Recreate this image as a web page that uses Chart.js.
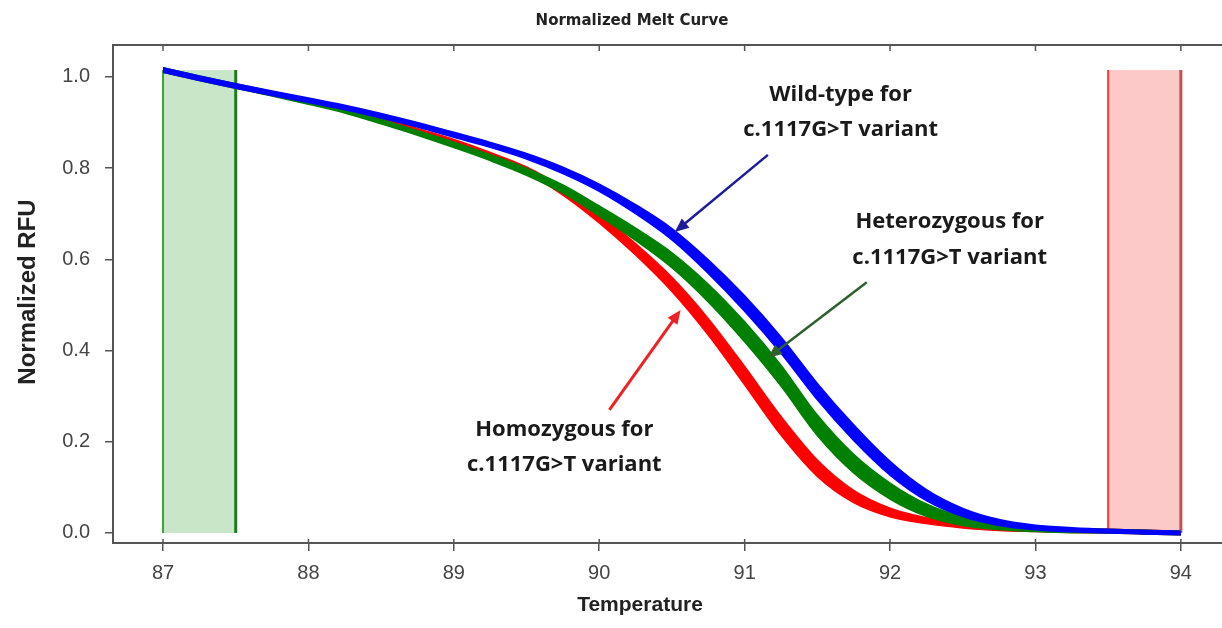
<!DOCTYPE html>
<html>
<head>
<meta charset="utf-8">
<title>Normalized Melt Curve</title>
<script src="https://cdn.jsdelivr.net/npm/chart.js@4.4.1/dist/chart.umd.min.js"></script>
<style>
    html, body { margin: 0; padding: 0; background: #ffffff; }
    #meltChart { display: block; }
</style>
</head>
<body>
<canvas id="meltChart" width="1222" height="628"></canvas>
<script>
// temperature points (deg C)
const temps = [87, 87.25, 87.5, 87.75, 88, 88.25, 88.5, 88.75, 89, 89.25, 89.5, 89.75, 90, 90.25, 90.5,
               90.75, 91, 91.25, 91.5, 91.75, 92, 92.25, 92.5, 92.75, 93, 93.25, 93.5, 93.75, 94];

// middle of each group of curves
const wildType = [1.015, 0.997, 0.980, 0.964, 0.949, 0.933, 0.915, 0.895, 0.873, 0.851, 0.826, 0.795, 0.757, 0.710, 0.655,
                  0.584, 0.503, 0.412, 0.310, 0.220, 0.142, 0.083, 0.045, 0.023, 0.012, 0.007, 0.004, 0.002, 0.000];
const heterozygous = [1.015, 0.997, 0.980, 0.963, 0.945, 0.926, 0.902, 0.877, 0.851, 0.823, 0.792, 0.754, 0.706, 0.655, 0.598,
                      0.526, 0.441, 0.345, 0.236, 0.152, 0.092, 0.050, 0.026, 0.014, 0.008, 0.005, 0.004, 0.002, 0.000];
const homozygous = [1.015, 0.997, 0.980, 0.963, 0.946, 0.929, 0.907, 0.883, 0.858, 0.829, 0.796, 0.749, 0.690, 0.622, 0.545,
                    0.452, 0.345, 0.235, 0.142, 0.080, 0.045, 0.027, 0.016, 0.010, 0.007, 0.005, 0.004, 0.002, 0.000];

// vertical spread of each group (RFU)
const wildTypeSpread = [0.010, 0.010, 0.010, 0.010, 0.010, 0.010, 0.010, 0.010, 0.011, 0.011, 0.012, 0.014, 0.016, 0.020, 0.025,
                        0.030, 0.034, 0.036, 0.036, 0.034, 0.030, 0.024, 0.018, 0.013, 0.010, 0.009, 0.008, 0.008, 0.008];
const heterozygousSpread = [0.010, 0.010, 0.010, 0.010, 0.010, 0.010, 0.010, 0.010, 0.012, 0.013, 0.015, 0.018, 0.022, 0.027, 0.033,
                            0.039, 0.044, 0.046, 0.045, 0.041, 0.035, 0.027, 0.019, 0.013, 0.010, 0.009, 0.008, 0.008, 0.008];
const homozygousSpread = [0.008, 0.008, 0.008, 0.008, 0.008, 0.008, 0.008, 0.008, 0.010, 0.011, 0.013, 0.016, 0.020, 0.025, 0.031,
                          0.036, 0.040, 0.041, 0.036, 0.027, 0.019, 0.013, 0.010, 0.009, 0.008, 0.008, 0.008, 0.008, 0.008];

// begin / end normalization regions
const startRegion = [87, 87.5];
const endRegion = [93.5, 94];
const regionTop = 1.015;

const xTicks = [87, 88, 89, 90, 91, 92, 93, 94];
const yTicks = [0.0, 0.2, 0.4, 0.6, 0.8, 1.0];

const chartTitle = 'Normalized Melt Curve';
const xTitle = 'Temperature';
const yTitle = 'Normalized RFU';

// annotation labels (data units)
const labels = [
    { lines: ['Wild-type for', 'c.1117G>T variant'], x: 91.66, y: [0.960, 0.885] },
    { lines: ['Heterozygous for', 'c.1117G>T variant'], x: 92.41, y: [0.682, 0.603] },
    { lines: ['Homozygous for', 'c.1117G>T variant'], x: 89.76, y: [0.226, 0.150] }
];
// arrows: from -> to (data units)
const arrows = [
    { from: [91.16, 0.829], to: [90.52, 0.660], color: '#1c1c9c', width: 2.5 },
    { from: [91.84, 0.550], to: [91.16, 0.384], color: '#2f5f2f', width: 2.5 },
    { from: [90.07, 0.270], to: [90.56, 0.489], color: '#ee2222', width: 3 }
];

function edge(center, spread, sign) {
    return temps.map(function(t, i) {
        return { x: t, y: center[i] + sign * spread[i] / 2 };
    });
}

function bandDatasets(name, center, spread, color) {
    return [
        {
            label: name + ' upper',
            data: edge(center, spread, 1),
            borderColor: color,
            borderWidth: 1.5,
            pointRadius: 0,
            cubicInterpolationMode: 'monotone',
            fill: false
        },
        {
            label: name + ' lower',
            data: edge(center, spread, -1),
            borderColor: color,
            backgroundColor: color,
            borderWidth: 1.5,
            pointRadius: 0,
            cubicInterpolationMode: 'monotone',
            fill: '-1'
        }
    ];
}

// shaded regions, frame top, titles and annotations
const decorations = {
    id: 'decorations',
    beforeDatasetsDraw(chart) {
        const ctx = chart.ctx;
        const x = chart.scales.x;
        const y = chart.scales.y;
        const yTop = y.getPixelForValue(regionTop);
        const yBot = y.getPixelForValue(0);

        function region(r, fill, leftColor, rightColor) {
            const x0 = x.getPixelForValue(r[0]);
            const x1 = x.getPixelForValue(r[1]);
            ctx.save();
            ctx.fillStyle = fill;
            ctx.fillRect(x0, yTop, x1 - x0, yBot - yTop);
            ctx.lineWidth = 2;
            ctx.strokeStyle = leftColor;
            ctx.beginPath(); ctx.moveTo(x0, yTop); ctx.lineTo(x0, yBot); ctx.stroke();
            ctx.lineWidth = 3;
            ctx.strokeStyle = rightColor;
            ctx.beginPath(); ctx.moveTo(x1, yTop); ctx.lineTo(x1, yBot); ctx.stroke();
            ctx.restore();
        }
        region(startRegion, '#c9e6c9', '#3aa53a', '#1f7a1f');
        region(endRegion, '#fdc8c8', '#f03a3a', '#c85050');
    },
    afterDraw(chart) {
        const ctx = chart.ctx;
        const area = chart.chartArea;
        const x = chart.scales.x;
        const y = chart.scales.y;

        // top frame with small inward ticks
        ctx.save();
        ctx.strokeStyle = '#555';
        ctx.lineWidth = 2;
        ctx.beginPath();
        ctx.moveTo(area.left - 1, area.top);
        ctx.lineTo(area.right, area.top);
        ctx.stroke();
        ctx.lineWidth = 1.5;
        xTicks.forEach(function(t) {
            const px = x.getPixelForValue(t);
            ctx.beginPath();
            ctx.moveTo(px, area.top);
            ctx.lineTo(px, area.top + 6);
            ctx.stroke();
            // bottom ticks cross the axis line a little
            ctx.beginPath();
            ctx.moveTo(px, area.bottom - 4);
            ctx.lineTo(px, area.bottom);
            ctx.stroke();
        });
        ctx.restore();

        // titles
        ctx.save();
        ctx.fillStyle = '#222';
        ctx.textAlign = 'center';
        ctx.textBaseline = 'middle';
        ctx.font = 'bold 15px "DejaVu Sans"';
        ctx.fillText(chartTitle, 632, 21);
        ctx.font = 'bold 21px "Liberation Sans"';
        ctx.fillText(xTitle, 640, 605);
        ctx.translate(28, 292);
        ctx.rotate(-Math.PI / 2);
        ctx.font = 'bold 24px "Liberation Sans"';
        ctx.fillText(yTitle, 0, 0);
        ctx.restore();

        // arrows
        arrows.forEach(function(a) {
            const x0 = x.getPixelForValue(a.from[0]);
            const y0 = y.getPixelForValue(a.from[1]);
            const x1 = x.getPixelForValue(a.to[0]);
            const y1 = y.getPixelForValue(a.to[1]);
            const ang = Math.atan2(y1 - y0, x1 - x0);
            const head = 14;
            ctx.save();
            ctx.strokeStyle = a.color;
            ctx.fillStyle = a.color;
            ctx.lineWidth = a.width;
            ctx.beginPath();
            ctx.moveTo(x0, y0);
            ctx.lineTo(x1 - Math.cos(ang) * head * 0.8, y1 - Math.sin(ang) * head * 0.8);
            ctx.stroke();
            ctx.beginPath();
            ctx.moveTo(x1, y1);
            ctx.lineTo(x1 - head * Math.cos(ang) + 6 * Math.sin(ang), y1 - head * Math.sin(ang) - 6 * Math.cos(ang));
            ctx.lineTo(x1 - head * Math.cos(ang) - 6 * Math.sin(ang), y1 - head * Math.sin(ang) + 6 * Math.cos(ang));
            ctx.closePath();
            ctx.fill();
            ctx.restore();
        });

        // annotation text
        ctx.save();
        ctx.font = 'bold 22px "Open Sans"';
        ctx.fillStyle = '#1a1a1a';
        ctx.textAlign = 'center';
        ctx.textBaseline = 'middle';
        labels.forEach(function(l) {
            const px = x.getPixelForValue(l.x);
            l.lines.forEach(function(line, i) {
                ctx.fillText(line, px, y.getPixelForValue(l.y[i]));
            });
        });
        ctx.restore();
    }
};

Chart.defaults.font.family = '"Liberation Sans", Arial, sans-serif';

const ctx = document.getElementById('meltChart').getContext('2d');
const meltChart = new Chart(ctx, {
    type: 'line',
    data: {
        datasets: []
            .concat(bandDatasets('Wild-type', wildType, wildTypeSpread, '#0000ff'))
            .concat(bandDatasets('Heterozygous', heterozygous, heterozygousSpread, '#008000'))
            .concat(bandDatasets('Homozygous', homozygous, homozygousSpread, '#ff0000'))
    },
    options: {
        responsive: false,
        animation: false,
        devicePixelRatio: 1,
        layout: { padding: { top: 45, left: 0, right: 0, bottom: 0 } },
        plugins: {
            legend: { display: false },
            tooltip: { enabled: false },
            title: { display: false }
        },
        scales: {
            x: {
                type: 'linear',
                min: 86.656,
                max: 94.283,
                afterFit: function(scale) { scale.height = 85; },
                afterBuildTicks: function(scale) {
                    scale.ticks = xTicks.map(function(v) { return { value: v }; });
                },
                ticks: {
                    color: '#444',
                    font: { size: 20 },
                    padding: 10,
                    maxRotation: 0,
                    callback: function(v) { return String(v); }
                },
                grid: {
                    display: true,
                    drawOnChartArea: false,
                    drawTicks: true,
                    tickLength: 8,
                    color: '#555',
                    lineWidth: 1.5
                },
                border: { display: true, color: '#555', width: 2 },
                title: { display: false }
            },
            y: {
                type: 'linear',
                min: -0.022,
                max: 1.07,
                afterFit: function(scale) { scale.width = 113; },
                afterBuildTicks: function(scale) {
                    scale.ticks = yTicks.map(function(v) { return { value: v }; });
                },
                ticks: {
                    color: '#444',
                    font: { size: 20 },
                    padding: 15,
                    callback: function(v) { return Number(v).toFixed(1); }
                },
                grid: {
                    display: true,
                    drawOnChartArea: false,
                    drawTicks: true,
                    tickLength: 8,
                    color: '#555',
                    lineWidth: 1.5
                },
                border: { display: true, color: '#555', width: 2 },
                title: { display: false }
            }
        }
    },
    plugins: [decorations]
});
</script>
</body>
</html>
